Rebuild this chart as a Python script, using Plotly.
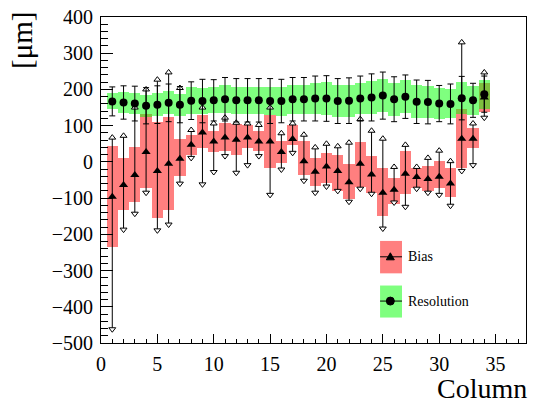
import plotly.graph_objects as go

# ---------------- data ----------------
columns = list(range(1, 35))

bias = [-96, -64, -36, 27, -25, -5, 9, 47, 81, 56, 67, 61, 67, 56, 56, 27, 63,
        2, -27, -13, -25, -56, -5, -35, -85, -77, -33, -42, -47, -41, -60, 64, 64, 178]
bias_box_hi = [43, 11, 40, 131, 109, 125, 64, 73, 129, 86, 108, 104, 102, 86, 129, 58, 103,
               58, 10, 24, 19, -6, 56, 16, -16, -45, 29, -18, -12, 2, -18, 147, 93, 218]
bias_box_lo = [-235, -133, -112, -72, -155, -133, -39, 20, 37, 27, 31, 20, 37, 31, -16, -3, 47,
               -36, -67, -58, -80, -103, -69, -85, -148, -116, -89, -71, -80, -71, -96, -16, 38, 138]
bias_err_hi = [67, 72, 150, 200, 227, 247, 204, 88, 150, 106, 122, 108, 106, 102, 150, 79, 106,
               75, 40, 50, 43, 53, 118, 86, 64, -14, 47, -14, 11, 31, 2, 330, 106, 247]
bias_err_lo = [-462, -187, -143, -85, -189, -173, -60, 11, -62, -28, 16, -30, -9, 16, -91, -21, 25,
               -52, -85, -68, -80, -110, -74, -88, -184, -112, -124, -74, -85, -91, -121, -25, -9, 122]

resolution = [167, 164, 161, 155, 158, 163, 158, 169, 168, 170, 173, 170, 170, 170, 168, 168, 173,
              173, 175, 175, 168, 169, 175, 178, 183, 173, 180, 166, 165, 161, 160, 176, 170, 187]
res_box_half = [22, 28, 28, 30, 32, 32, 30, 38, 36, 36, 38, 38, 38, 38, 38, 40, 40,
                40, 42, 45, 44, 44, 44, 45, 45, 45, 45, 45, 45, 43, 40, 45, 40, 40]
res_err_half = [40, 46, 48, 50, 52, 52, 50, 52, 60, 57, 60, 60, 60, 60, 62, 60, 60,
                60, 62, 63, 62, 63, 62, 65, 65, 62, 60, 60, 60, 50, 55, 60, 47, 50]

x_ticks = [0, 5, 10, 15, 20, 25, 30, 35]
y_ticks = [-500, -400, -300, -200, -100, 0, 100, 200, 300, 400]

# ---------------- derived ----------------
bias_box_height = [h - l for h, l in zip(bias_box_hi, bias_box_lo)]
bias_plus = [h - b for h, b in zip(bias_err_hi, bias)]
bias_minus = [b - l for b, l in zip(bias, bias_err_lo)]
res_box_lo = [r - h for r, h in zip(resolution, res_box_half)]
res_box_height = [2 * h for h in res_box_half]

RED = "rgba(255,0,0,0.5)"
GREEN = "rgba(0,255,0,0.5)"
FONT = "'Liberation Serif', 'Times New Roman', Times, serif"

fig = go.Figure()
fig.add_trace(go.Bar(x=columns, y=bias_box_height, base=bias_box_lo, width=1,
                     marker=dict(color=RED, line=dict(width=0)), showlegend=False))
fig.add_trace(go.Bar(x=columns, y=res_box_height, base=res_box_lo, width=1,
                     marker=dict(color=GREEN, line=dict(width=0)), showlegend=False))
fig.add_trace(go.Scatter(x=columns, y=bias, mode="markers",
                         marker=dict(symbol="triangle-up", size=8, color="black"),
                         error_y=dict(type="data", symmetric=False, array=bias_plus,
                                      arrayminus=bias_minus, width=0, thickness=1, color="black"),
                         showlegend=False))
fig.add_trace(go.Scatter(x=columns, y=bias_err_hi, mode="markers",
                         marker=dict(symbol="triangle-up", size=6, color="white",
                                     line=dict(color="black", width=1)), showlegend=False))
fig.add_trace(go.Scatter(x=columns, y=bias_err_lo, mode="markers",
                         marker=dict(symbol="triangle-down", size=6, color="white",
                                     line=dict(color="black", width=1)), showlegend=False))
fig.add_trace(go.Scatter(x=columns, y=resolution, mode="markers",
                         marker=dict(symbol="circle", size=8, color="black"),
                         error_y=dict(type="data", array=res_err_half, width=3,
                                      thickness=1, color="black"),
                         showlegend=False))

axis_common = dict(showline=True, linecolor="black", linewidth=1, mirror=True,
                   showgrid=False, zeroline=False, ticks="inside", tickcolor="black",
                   tickfont=dict(family=FONT, size=20, color="black"))

fig.update_layout(
    width=533, height=404, autosize=False,
    margin=dict(l=101, r=6, t=14, b=61),
    paper_bgcolor="white", plot_bgcolor="white",
    barmode="overlay", bargap=0,
    xaxis=dict(range=[0, 37.7], tickmode="array", tickvals=x_ticks, ticklen=9,
               ticklabelstandoff=3,
               minor=dict(dtick=1, tick0=0, ticks="inside", ticklen=4, tickcolor="black"),
               **axis_common),
    yaxis=dict(range=[-500, 400], tickmode="array", tickvals=y_ticks, ticklen=12,
               ticklabelstandoff=3,
               minor=dict(dtick=20, tick0=0, ticks="inside", ticklen=7, tickcolor="black"),
               **axis_common),
)

# axis titles
fig.add_annotation(text="Column", xref="paper", yref="paper", x=1.007, y=-0.141,
                   xanchor="right", yanchor="middle", showarrow=False,
                   font=dict(family=FONT, size=28, color="black"))
fig.add_annotation(text="[μm]", xref="paper", yref="paper", x=-0.1854, y=0.927,
                   xanchor="center", yanchor="middle", textangle=-90, showarrow=False,
                   font=dict(family=FONT, size=29, color="black"))

# legend (ROOT style boxes)
leg_x0, leg_x1, leg_xm = 0.6566, 0.7082, 0.6808
entries = [("Bias", RED, 0.2137, 0.3131, 0.2644, "tri"),
           ("Resolution", GREEN, 0.0781, 0.1763, 0.1286, "circ")]
for label, col, y0, y1, ym, mk in entries:
    fig.add_shape(type="rect", xref="paper", yref="paper", x0=leg_x0, x1=leg_x1, y0=y0, y1=y1,
                  fillcolor=col, line=dict(width=0), layer="above")
    fig.add_shape(type="line", xref="paper", yref="paper", x0=leg_x0, x1=leg_x1, y0=ym, y1=ym,
                  line=dict(color="black", width=1), layer="above")
    if mk == "tri":
        fig.add_shape(type="path", xref="paper", yref="paper", xsizemode="pixel", ysizemode="pixel",
                      xanchor=leg_xm, yanchor=ym, path="M -4,-3 L 4,-3 L 0,4 Z",
                      fillcolor="black", line=dict(color="black", width=1), layer="above")
    else:
        fig.add_shape(type="circle", xref="paper", yref="paper", xsizemode="pixel", ysizemode="pixel",
                      xanchor=leg_xm, yanchor=ym, x0=-4, x1=4, y0=-4, y1=4,
                      fillcolor="black", line=dict(color="black", width=1), layer="above")
    fig.add_annotation(text=label, xref="paper", yref="paper", x=0.7176, y=ym,
                       xanchor="left", yanchor="middle", showarrow=False,
                       font=dict(family=FONT, size=14, color="black"))

# remove the browser's default 8px page margin so the figure fills the window exactly
fig.write_html("out.html", config={"displayModeBar": False},
               post_script="document.body.style.margin='0px';")
